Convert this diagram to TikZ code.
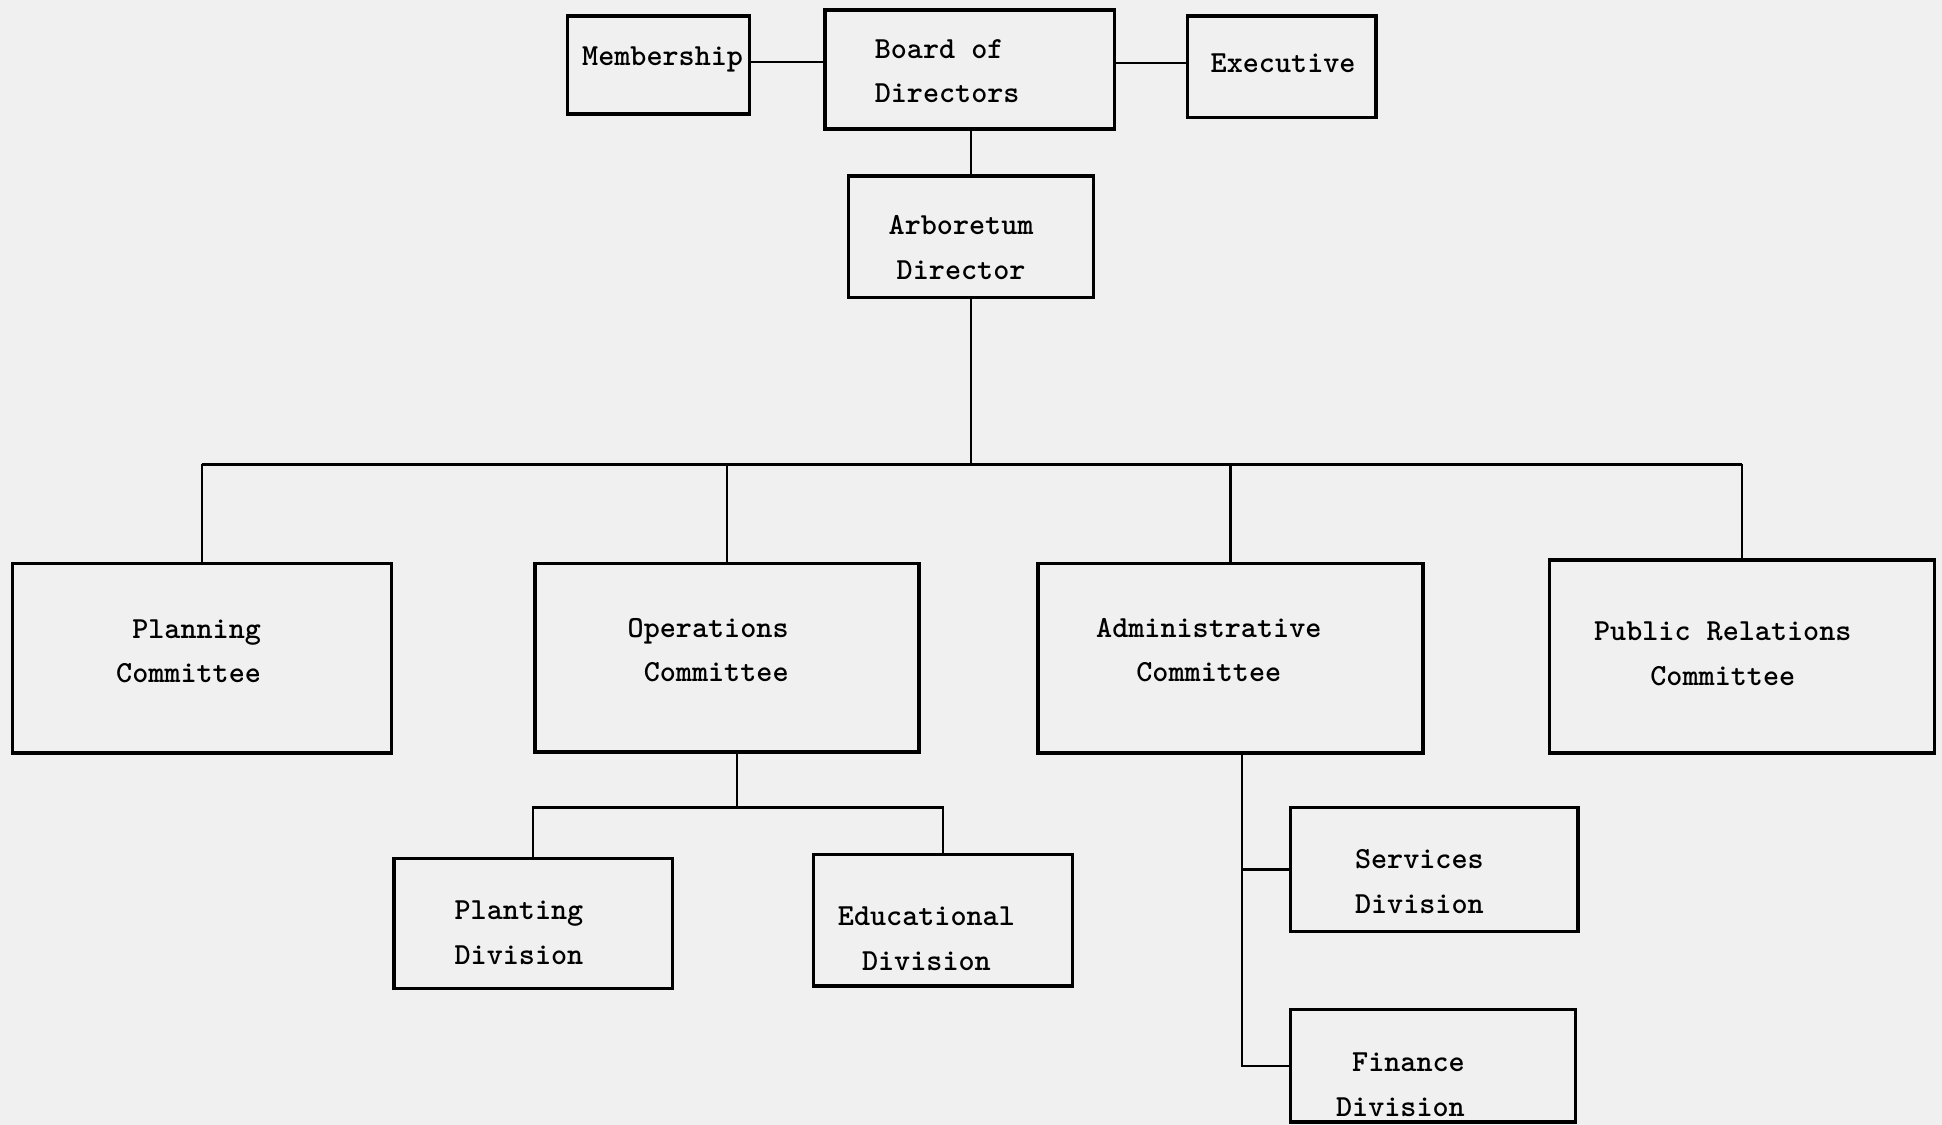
\documentclass[tikz,border=0pt]{standalone}
\def\pxu{0.25mm}

\begin{document}
\begin{tikzpicture}[
x=\pxu, y=-\pxu,
font=\ttfamily\bfseries\fontsize{17.6}{25.6}\selectfont,
box/.style={draw=black, line width=2pt, inner sep=0pt},
boxsize/.style 2 args={minimum width=#1*\pxu, minimum height=#2*\pxu},
lbl/.style={inner sep=0pt, align=center},
link/.style={draw=black, line width=1.4pt},
]

\fill[black!6] (0,0) rectangle (1568,908);
\useasboundingbox (0,0) rectangle (1568,908);

% top row
\node[box, boxsize={147}{79}]  (memb)  at (531.5,52.5) {};
\node[box, boxsize={234}{96}]  (board) at (783,56) {};
\node[box, boxsize={152}{82}]  (exec)  at (1035,54) {};
\node[box, boxsize={198}{98}]  (arbo)  at (784,191) {};

% committees
\node[box, boxsize={306}{153}] (plan)   at (163,531.5) {};
\node[box, boxsize={310}{152}] (oper)   at (587,531) {};
\node[box, boxsize={311}{153}] (admin)  at (993.5,531.5) {};
\node[box, boxsize={311}{156}] (pubrel) at (1406.5,530) {};

% divisions
\node[box, boxsize={225}{105}] (plant) at (430.5,745.5) {};
\node[box, boxsize={209}{106}] (educ)  at (761.5,743) {};
\node[box, boxsize={232}{100}] (serv)  at (1158,702) {};
\node[box, boxsize={230}{91}]  (fin)   at (1157,860.5) {};

% texts
\node[lbl] (memb-t)  at (535,48) {Membership};
\node[lbl, align=left, anchor=west] (board-t) at (706,57.5) {Board of\\Directors};
\node[lbl] (exec-t)  at (1036,51) {Executive};
\node[lbl] (arbo-t)  at (776,200) {Arboretum\\Director};
\node[lbl, align=right, anchor=east] (plan-t) at (211,526) {Planning\\Committee};
\node[lbl, align=right, anchor=east] (oper-t) at (637,525) {Operations\\Committee};
\node[lbl] (admin-t) at (976,525) {Administrative\\Committee};
\node[lbl] (pubrel-t) at (1391,528) {Public Relations\\Committee};
\node[lbl] (plant-t) at (419,753) {Planting\\Division};
\node[lbl] (educ-t)  at (748,758) {Educational\\Division};
\node[lbl] (serv-t)  at (1146,712) {Services\\Division};
\node[lbl, align=right, anchor=east] (fin-t) at (1183,876) {Finance\\Division};

% connectors
\coordinate (busL) at (163,375);
\coordinate (busR) at (1406.5,375);
\coordinate (opbus) at (595,652);
\coordinate (spine) at (1003,608);

\draw[link] (memb.east |- 0,50) -- (board.west |- 0,50);
\draw[link] (board.east |- 0,51) -- (exec.west |- 0,51);
\draw[link] (arbo.north |- board.south) -- (arbo.north);
\draw[link] (arbo.south) -- (arbo.south |- busL);
\draw[link] (busL) -- (busR);
\foreach \c in {plan,oper,admin,pubrel}
  \draw[link] (\c.north |- busL) -- (\c.north);

\draw[link] (oper.south -| opbus) -- (opbus);
\draw[link] (plant.north) |- (opbus) -| (educ.north);

\draw[link] (spine) |- (fin.west);
\draw[link] (spine |- serv.west) -- (serv.west);

\end{tikzpicture}
\end{document}
